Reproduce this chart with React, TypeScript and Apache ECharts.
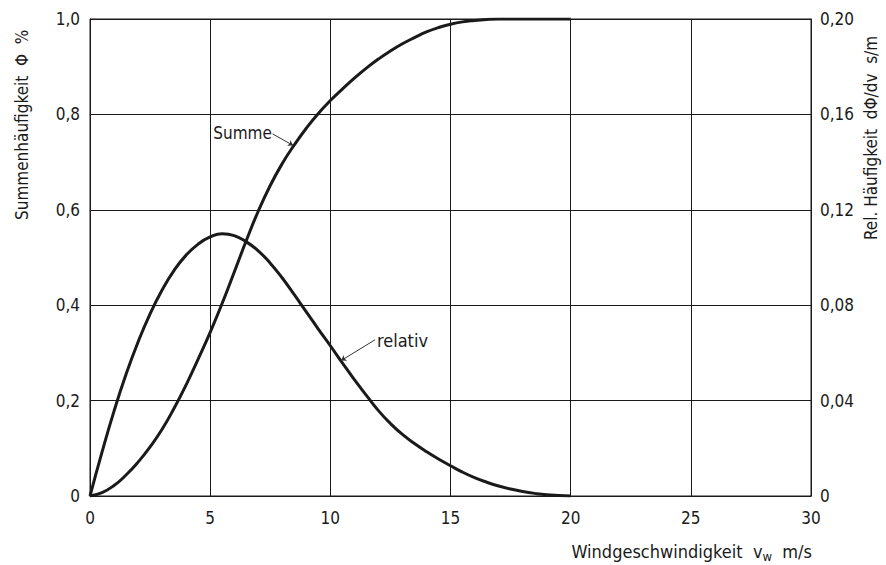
import React, { useEffect, useRef } from "react";
import * as echarts from "echarts";

// Wind speed samples (m/s)
const speeds = [
  0, 0.5, 1, 1.5, 2, 2.5, 3, 3.5, 4, 4.5, 5, 5.5, 6, 6.5, 7, 7.5, 8, 8.5, 9, 9.5,
  10, 10.5, 11, 11.5, 12, 12.5, 13, 13.5, 14, 14.5, 15, 15.5, 16, 16.5, 17, 17.5,
  18, 18.5, 19, 19.5, 20,
];

// Cumulative frequency Φ (left axis)
const summe = [
  0, 0.007, 0.022, 0.044, 0.071, 0.103, 0.14, 0.184, 0.233, 0.287, 0.343, 0.404,
  0.469, 0.535, 0.597, 0.651, 0.697, 0.736, 0.771, 0.802, 0.829, 0.853, 0.876,
  0.897, 0.916, 0.933, 0.948, 0.961, 0.973, 0.982, 0.989, 0.994, 0.997, 0.999,
  1.0, 1.0, 1.0, 1.0, 1.0, 1.0, 1.0,
];

// Relative frequency dΦ/dv (right axis, s/m)
const relativ = [
  0, 0.0184, 0.0356, 0.051, 0.0646, 0.0764, 0.0864, 0.0946, 0.101, 0.1056,
  0.1086, 0.11, 0.1092, 0.1066, 0.1028, 0.0976, 0.0914, 0.0844, 0.0772, 0.07,
  0.063, 0.0558, 0.0488, 0.0422, 0.0358, 0.0304, 0.0258, 0.022, 0.0186, 0.0155,
  0.0127, 0.01, 0.0077, 0.0058, 0.0042, 0.0029, 0.0019, 0.0011, 0.0005, 0.0002,
  0,
];

// Tick settings
const xTicks = { min: 0, max: 30, interval: 5 };
const yLeftTicks = { min: 0, max: 1, interval: 0.2 };
const yRightTicks = { min: 0, max: 0.2, interval: 0.04 };

// Annotation anchors (data coordinates)
const summeLabel = { text: "Summe", coord: [6.35, 0.762] };
const summeLeader = [[7.6, 0.759], [8.45, 0.735]];
const relativLabel = { text: "relativ", coord: [13.0, 0.0654] };
const relativLeader = [[11.86, 0.0655], [10.45, 0.0568]];

const FONT = "'DejaVu Sans Condensed', 'DejaVu Sans', sans-serif";
const INK = "#1a1a1a";

export default function App() {
  const ref = useRef<HTMLDivElement>(null);
  useEffect(() => {
    if (!ref.current) return;
    const chart = echarts.init(ref.current, undefined, { renderer: "svg" });
    const fmtLeft = (v: number) => (v === 0 ? "0" : v.toFixed(1).replace(".", ","));
    const fmtRight = (v: number) => (v === 0 ? "0" : v.toFixed(2).replace(".", ","));
    chart.setOption({
      animation: false,
      backgroundColor: "#ffffff",
      textStyle: { fontFamily: FONT },
      grid: {
        left: 90,
        right: 75,
        top: 19,
        bottom: 69,
        show: true,
        borderColor: INK,
        borderWidth: 1,
      },
      xAxis: {
        type: "value",
        ...xTicks,
        axisLine: { show: true, lineStyle: { color: INK, width: 1 } },
        axisTick: { show: false },
        axisLabel: { fontSize: 17, color: INK, margin: 13, fontFamily: FONT },
        splitLine: { show: true, lineStyle: { color: INK, width: 1 } },
      },
      yAxis: [
        {
          type: "value",
          ...yLeftTicks,
          position: "left",
          axisLine: { show: true, lineStyle: { color: INK, width: 1 } },
          axisTick: { show: false },
          axisLabel: { fontSize: 17, color: INK, margin: 10, formatter: fmtLeft, fontFamily: FONT },
          splitLine: { show: true, lineStyle: { color: INK, width: 1 } },
        },
        {
          type: "value",
          ...yRightTicks,
          position: "right",
          axisLine: { show: true, lineStyle: { color: INK, width: 1 } },
          axisTick: { show: false },
          axisLabel: { fontSize: 17, color: INK, margin: 9, formatter: fmtRight, fontFamily: FONT },
          splitLine: { show: false },
        },
      ],
      graphic: [
        {
          type: "text",
          x: 22,
          y: 220,
          rotation: Math.PI / 2,
          style: {
            text: "Summenhäufigkeit  Φ  %",
            fontSize: 17,
            fontFamily: FONT,
            fill: INK,
            textAlign: "left",
            textVerticalAlign: "middle",
          },
        },
        {
          type: "text",
          x: 871,
          y: 240,
          rotation: Math.PI / 2,
          style: {
            text: "Rel. Häufigkeit  dΦ/dv  s/m",
            fontSize: 17,
            fontFamily: FONT,
            fill: INK,
            textAlign: "left",
            textVerticalAlign: "middle",
          },
        },
        {
          type: "text",
          x: 812,
          y: 551,
          style: {
            text: "{n|Windgeschwindigkeit  v}{s|w}{n|  m/s}",
            fontFamily: FONT,
            fill: INK,
            textAlign: "right",
            textVerticalAlign: "middle",
            rich: {
              n: { fontSize: 18, fontFamily: FONT, color: INK },
              s: { fontSize: 13, fontFamily: FONT, color: INK, padding: [10, 0, 0, 0] },
            },
          },
        },
      ],
      series: [
        {
          name: "Summe",
          type: "line",
          yAxisIndex: 0,
          data: speeds.map((v, i) => [v, summe[i]]),
          showSymbol: false,
          smooth: 0.5,
          lineStyle: { color: INK, width: 3 },
          markPoint: {
            symbol: "circle",
            symbolSize: 0,
            label: {
              show: true,
              position: "inside",
              formatter: summeLabel.text,
              fontSize: 17,
              color: INK,
              fontFamily: FONT,
            },
            data: [{ coord: summeLabel.coord }],
          },
          markLine: {
            silent: true,
            symbol: ["none", "arrow"],
            symbolSize: 5,
            label: { show: false },
            lineStyle: { color: "#333", width: 1, type: "solid" },
            data: [[{ coord: summeLeader[0] }, { coord: summeLeader[1] }]],
          },
        },
        {
          name: "relativ",
          type: "line",
          yAxisIndex: 1,
          data: speeds.map((v, i) => [v, relativ[i]]),
          showSymbol: false,
          smooth: 0.5,
          lineStyle: { color: INK, width: 3 },
          markPoint: {
            symbol: "circle",
            symbolSize: 0,
            label: {
              show: true,
              position: "inside",
              formatter: relativLabel.text,
              fontSize: 18,
              color: INK,
              fontFamily: FONT,
            },
            data: [{ coord: relativLabel.coord }],
          },
          markLine: {
            silent: true,
            symbol: ["none", "arrow"],
            symbolSize: 5,
            label: { show: false },
            lineStyle: { color: "#333", width: 1, type: "solid" },
            data: [[{ coord: relativLeader[0] }, { coord: relativLeader[1] }]],
          },
        },
      ],
    });
    return () => chart.dispose();
  }, []);
  return (
    <div
      ref={ref}
      style={{ position: "fixed", left: 0, top: 0, width: 886, height: 565, background: "#fff" }}
    />
  );
}
